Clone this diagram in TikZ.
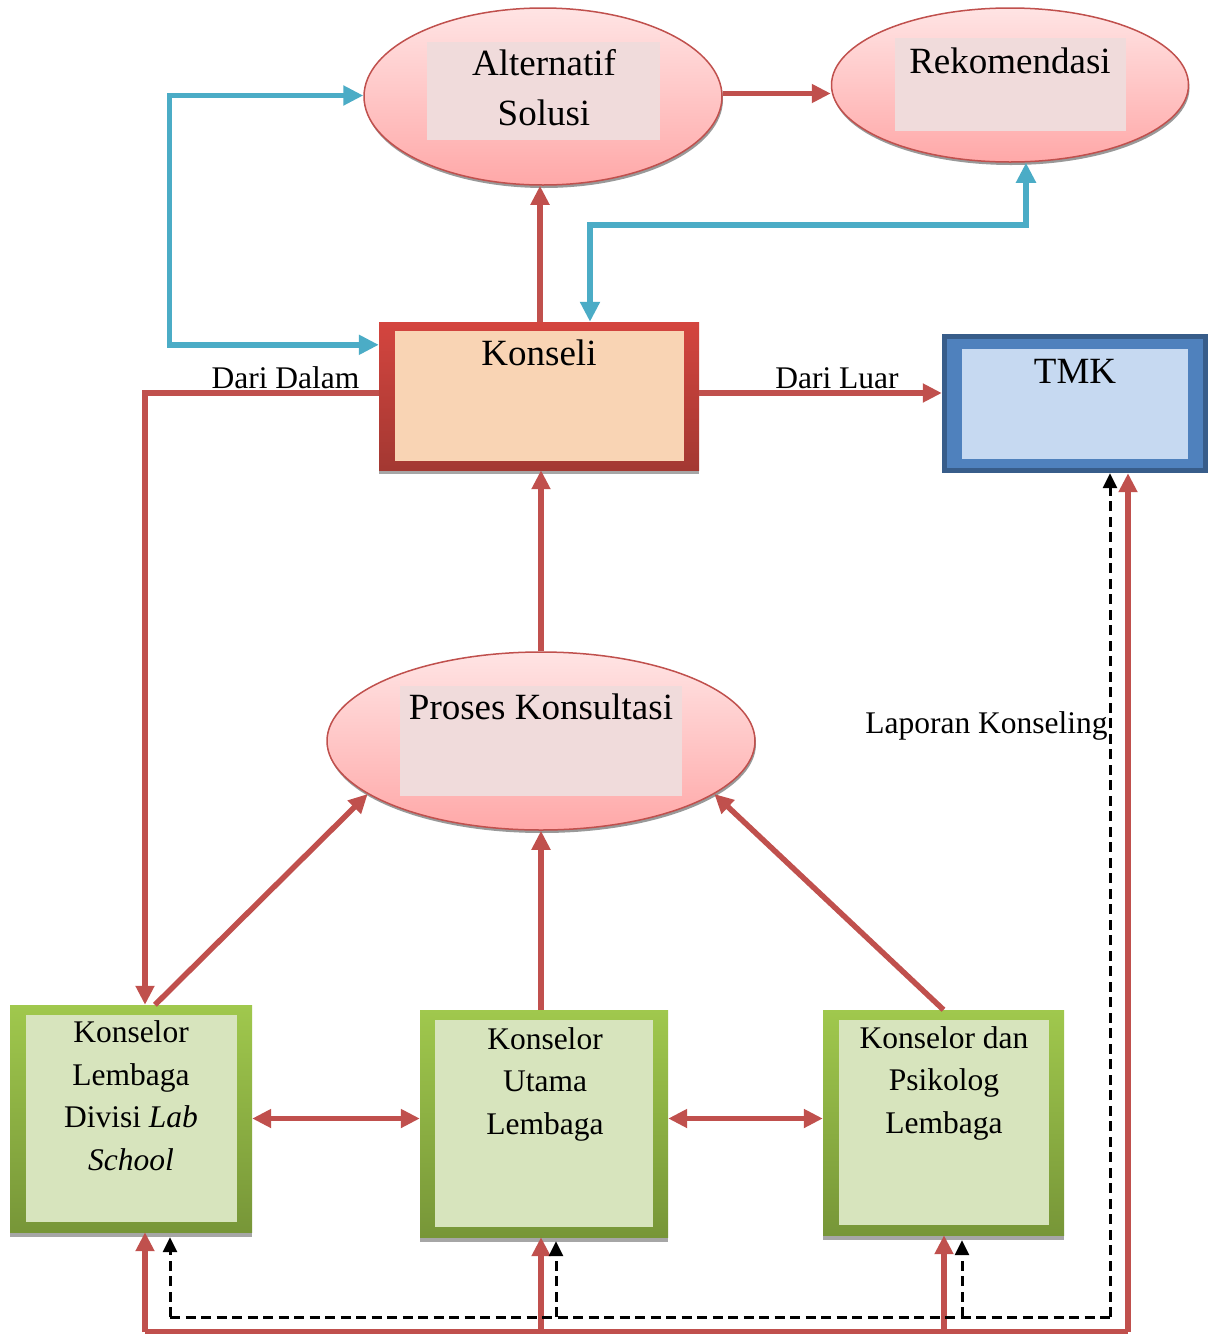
\documentclass[tikz,border=0pt]{standalone}
\usepackage{fontspec}
\setmainfont{Liberation Serif}
\usetikzlibrary{arrows.meta,shapes.geometric,shadows,calc}
\definecolor{cRed}{HTML}{C0504D}
\definecolor{cCyan}{HTML}{4BACC6}
\definecolor{ellTop}{HTML}{FFE4E4}
\definecolor{ellBot}{HTML}{FFA8A8}
\definecolor{innerPink}{HTML}{F0DBDB}
\definecolor{konTop}{HTML}{D4453F}
\definecolor{konBot}{HTML}{A33832}
\definecolor{konIn}{HTML}{F9D4B4}
\definecolor{tmkDark}{HTML}{385D8A}
\definecolor{tmkMid}{HTML}{4F81BD}
\definecolor{tmkIn}{HTML}{C6D9F1}
\definecolor{gTop}{HTML}{A0C84D}
\definecolor{gBot}{HTML}{779638}
\definecolor{gIn}{HTML}{D7E4BD}
\begin{document}
\begin{tikzpicture}[x=1pt,y=-1pt,
  bigtxt/.style={font=\fontsize{37}{50}\selectfont, inner sep=0pt, anchor=base, align=center},
  smalltxt/.style={font=\fontsize{31.5}{42.5}\selectfont, inner sep=0pt, anchor=base, align=center},
  ellnode/.style={ellipse, inner sep=0pt, draw=cRed, line width=1.5pt, top color=ellTop, bottom color=ellBot,
     drop shadow={shadow xshift=1pt, shadow yshift=-3pt, fill=black!40, opacity=1}},
  pinkbox/.style={rectangle, inner sep=0pt, fill=innerPink},
  konouter/.style={rectangle, inner sep=0pt, top color=konTop, bottom color=konBot,
     drop shadow={shadow xshift=0pt, shadow yshift=-4pt, fill=black!35, opacity=1}},
  greenouter/.style={rectangle, inner sep=0pt, top color=gTop, bottom color=gBot,
     drop shadow={shadow xshift=0pt, shadow yshift=-5pt, fill=black!35, opacity=1}},
  plainbox/.style={rectangle, inner sep=0pt},
  redln/.style={draw=cRed, line width=5.5pt},
  redarr/.style={redln, -{Triangle[length=19pt,width=18pt]}},
  redbi/.style={redln, {Triangle[length=19pt,width=18pt]}-{Triangle[length=19pt,width=18pt]}},
  cyanbi/.style={draw=cCyan, line width=5.5pt, {Triangle[length=20pt,width=19pt]}-{Triangle[length=20pt,width=19pt]}},
  dashln/.style={draw=black, line width=3pt, dash pattern=on 10pt off 5.5pt},
  dasharr/.style={dashln, -{Triangle[length=15pt,width=14pt]}}
]
\useasboundingbox[fill=white] (0,0) rectangle (1216,1334);

% ---- ellipses ----
\node[ellnode, minimum width=358pt, minimum height=177pt] (alt) at (543,96.5) {};
\node[pinkbox, minimum width=233pt, minimum height=98pt] (altin) at (543.5,91) {};
\node[bigtxt] (altT) at (544,125) {Alternatif\\Solusi};

\node[ellnode, minimum width=357pt, minimum height=154pt] (rek) at (1010,85) {};
\node[pinkbox, minimum width=231pt, minimum height=93pt] (rekin) at (1010.5,84.5) {};
\node[bigtxt] (rekT) at (1010,73) {Rekomendasi};

\node[ellnode, minimum width=428pt, minimum height=178pt] (proses) at (541,741) {};
\node[pinkbox, minimum width=282pt, minimum height=110pt] (prosesin) at (541,741) {};
\node[bigtxt] (prosesT) at (541,719) {Proses Konsultasi};

% ---- Konseli ----
\node[konouter, minimum width=320pt, minimum height=148pt] (kons) at (539,396) {};
\node[plainbox, fill=konIn, minimum width=289pt, minimum height=130pt] (konsin) at (539.5,396) {};
\node[bigtxt] (konsT) at (539,365) {Konseli};

% ---- TMK ----
\node[plainbox, fill=tmkDark, minimum width=266pt, minimum height=139pt] (tmk) at (1075,403.5) {};
\node[plainbox, fill=tmkMid, minimum width=256pt, minimum height=129pt] (tmkmid) at (1075,403.5) {};
\node[plainbox, fill=tmkIn, minimum width=226pt, minimum height=110pt] (tmkin) at (1075,404) {};
\node[bigtxt] (tmkT) at (1075,383) {TMK};

% ---- green boxes ----
\node[greenouter, minimum width=242pt, minimum height=227pt] (b1) at (131,1118.5) {};
\node[plainbox, fill=gIn, minimum width=211pt, minimum height=207pt] (b1in) at (131.5,1118.5) {};
\node[smalltxt] (b1T) at (131,1170) {Konselor\\Lembaga\\Divisi \textit{Lab}\\\textit{School}};

\node[greenouter, minimum width=248pt, minimum height=227pt] (b2) at (544,1123.5) {};
\node[plainbox, fill=gIn, minimum width=218pt, minimum height=207pt] (b2in) at (544,1123.5) {};
\node[smalltxt] (b2T) at (545,1134) {Konselor\\Utama\\Lembaga};

\node[greenouter, minimum width=241pt, minimum height=225pt] (b3) at (943.5,1122.5) {};
\node[plainbox, fill=gIn, minimum width=210pt, minimum height=205pt] (b3in) at (944,1122.5) {};
\node[smalltxt] (b3T) at (944,1133) {Konselor dan\\Psikolog\\Lembaga};

% ---- labels ----
\node[smalltxt] (dd) at (285.5,388) {Dari Dalam};
\node[smalltxt] (dl) at (837,388) {Dari Luar};
\node[smalltxt] (lk) at (986.5,733) {Laporan Konseling};

% ---- connectors ----
\draw[redarr] ([yshift=3pt]alt.east) -- ([yshift=3pt]alt.east -| rek.west);
\draw[redarr] (kons.north -| 540,0) -- (alt.south -| 540,0);
\draw[cyanbi] ($(kons.north west)+(0,23)$) -| ($(alt.west)+(-194,-1)$) -- ($(alt.west)+(0,-1)$);
\draw[cyanbi] ($(kons.north)+(51,0)$) -- ++(0,-97) -| ($(rek.south)+(16,0)$);
\draw[redarr] ([yshift=3pt]kons.west) -| ($(b1.north)+(14,0)$);
\draw[redarr] ([yshift=3pt]kons.east) -- ([yshift=3pt]kons.east -| tmk.west);
\draw[redarr] (proses.north) -- (proses.north |- kons.south);
\draw[redarr] ($(b1.north)+(24,0)$) -- (proses.197);
\draw[redarr] (proses.south |- b2.north) -- (proses.south);
\draw[redarr] (b3.north) -- (proses.343);
\draw[redbi] (b1.east) -- (b1.east -| b2.west);
\draw[redbi] (b1.east -| b2.east) -- (b1.east -| b3.west);

% bottom red lines
\coordinate (rb1) at (145,1332);
\coordinate (rb2) at (541,1332);
\coordinate (rb3) at (944,1332);
\coordinate (rb4) at (1128,1332);
\draw[redln] (rb1) -- (rb4);
\draw[redarr] (rb1) -- (rb1 |- b1.south);
\draw[redarr] (rb2) -- (rb2 |- b2.south);
\draw[redarr] (rb3) -- (rb3 |- b3.south);
\draw[redarr] (rb4) -- (rb4 |- tmk.south);

% dashed report lines
\coordinate (db1) at (170,1317);
\coordinate (db2) at (556,1317);
\coordinate (db3) at (962,1317);
\coordinate (db4) at (1110,1317);
\draw[dashln] (db1) -- (db4);
\draw[dasharr] (db1) -- ($(db1 |- b1.south)+(0,5)$);
\draw[dasharr] (db2) -- ($(db2 |- b2.south)+(0,4)$);
\draw[dasharr] (db3) -- ($(db3 |- b3.south)+(0,5)$);
\draw[dasharr] (db4) -- (db4 |- tmk.south);
\end{tikzpicture}
\end{document}
